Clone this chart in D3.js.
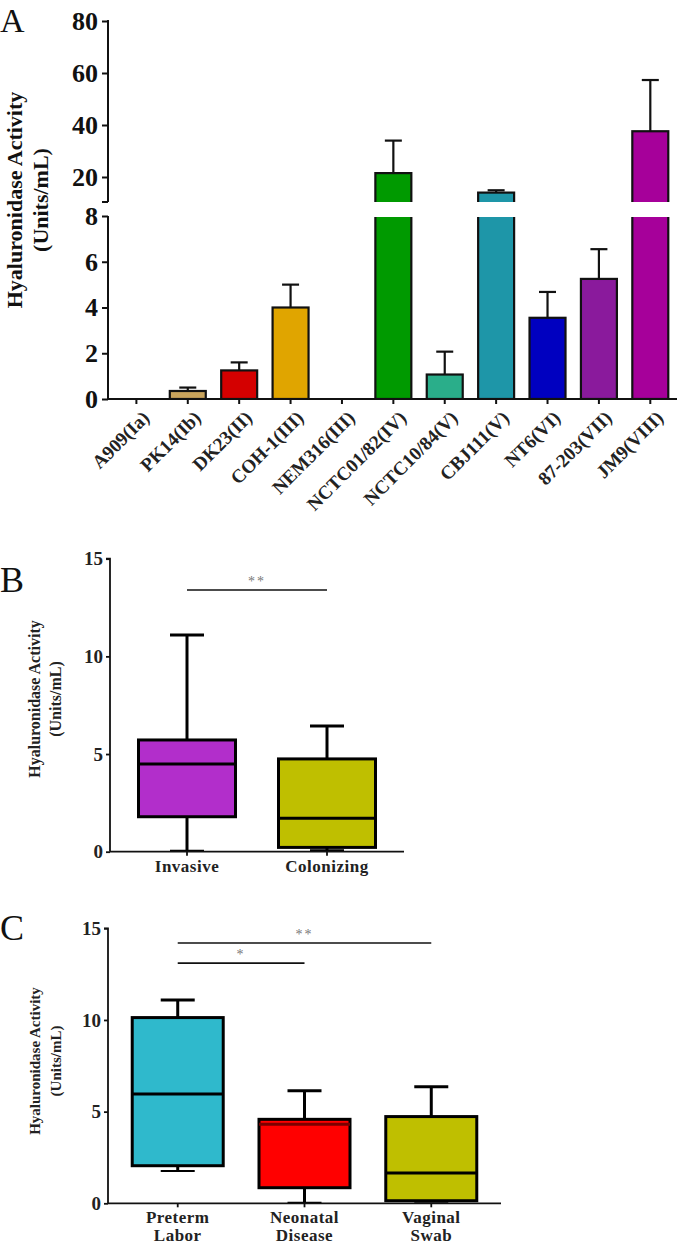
<!DOCTYPE html>
<html><head><meta charset="utf-8">
<script src="https://cdn.jsdelivr.net/npm/d3@7"></script>
<style>body{margin:0;background:#fff}svg{display:block}</style>
</head><body>
<svg id="c" width="680" height="1247"></svg>
<script>
// ---- Panel A data
const strains = ["A909(Ia)","PK14(Ib)","DK23(II)","COH-1(III)","NEM316(III)","NCTC01/82(IV)","NCTC10/84(V)","CBJ111(V)","NT6(VI)","87-203(VII)","JM9(VIII)"];
const activity = [0, 0.35, 1.25, 4.0, 0, 21.5, 1.07, 14.0, 3.55, 5.25, 37.6];
const activityErr = [0, 0.15, 0.35, 1.0, 0, 12.5, 1.0, 0.9, 1.13, 1.3, 19.7];
const barColors = ["#ffffff","#c9a45c","#d40000","#e0a500","#ffffff","#009a00","#2aae8a","#1e96a8","#0000c0","#8a1a9c","#a6009a"];
const ticksLow = [0,2,4,6,8];
const ticksHigh = [20,40,60,80];
// ---- Panel B data
const groupsB = ["Invasive","Colonizing"];
const statsB = [ // [min, q1, median, q3, max]
  [0.05, 1.79, 4.49, 5.72, 11.1],
  [0.08, 0.22, 1.71, 4.75, 6.43]
];
const colorsB = ["#b22ecb","#bfbf00"];
// ---- Panel C data
const groupsC = [["Preterm","Labor"],["Neonatal","Disease"],["Vaginal","Swab"]];
const statsC = [
  [1.76, 2.05, 5.96, 10.13, 11.09],
  [0.03, 0.85, 4.31, 4.58, 6.14],
  [0.08, 0.14, 1.65, 4.73, 6.36]
];
const colorsC = ["#2fb9cc","#ff0000","#bfbf00"];
const medianColorsC = ["#000","#7a0000","#000"];
const ticksBC = [0,5,10,15];

const svg = d3.select("#c");
const F = '"Liberation Serif","Times New Roman",serif';

// ================= Panel A =================
{
  const x = d3.scaleBand().domain(strains).range([110.7, 676]).paddingInner(0.3).paddingOuter(0.15);
  const yLow = d3.scaleLinear().domain([0,8]).range([399,216]);
  const yHigh = d3.scaleLinear().domain([20,80]).range([177,21]);
  const breakTop = 202, breakBot = 217;
  const defs = svg.append("defs");
  defs.append("clipPath").attr("id","clipLow").append("rect").attr("x",0).attr("y",breakBot).attr("width",680).attr("height",400-breakBot);
  defs.append("clipPath").attr("id","clipHigh").append("rect").attr("x",0).attr("y",0).attr("width",680).attr("height",breakTop);

  const g = svg.append("g");
  const bw = x.bandwidth();
  // lower segment bars
  g.append("g").attr("clip-path","url(#clipLow)").selectAll("rect").data(strains).join("rect")
    .attr("x", d=>x(d)).attr("width", bw)
    .attr("y", (d,i)=> activity[i] > 8 ? 150 : yLow(activity[i]))
    .attr("height", (d,i)=> yLow(0) - (activity[i] > 8 ? 150 : yLow(activity[i])))
    .attr("fill",(d,i)=>barColors[i]).attr("stroke","#111").attr("stroke-width",2.2)
    .attr("display",(d,i)=>activity[i]>0?null:"none");
  // upper segment bars
  g.append("g").attr("clip-path","url(#clipHigh)").selectAll("rect").data(strains.filter((d,i)=>activity[i]>8)).join("rect")
    .attr("x", d=>x(d)).attr("width", bw)
    .attr("y", d=>yHigh(activity[strains.indexOf(d)]))
    .attr("height", d=> 230 - yHigh(activity[strains.indexOf(d)]))
    .attr("fill",d=>barColors[strains.indexOf(d)]).attr("stroke","#111").attr("stroke-width",2.2);
  // error bars
  const ypos = v => v > 8 ? yHigh(v) : yLow(v);
  const eb = g.append("g").attr("stroke","#111").attr("stroke-width",2.2);
  strains.forEach((d,i)=>{
    if (activity[i] <= 0) return;
    const cx = x(d)+bw/2, y1 = ypos(activity[i]), y2 = ypos(activity[i]+activityErr[i]);
    eb.append("line").attr("x1",cx).attr("x2",cx).attr("y1",y1).attr("y2",y2);
    eb.append("line").attr("x1",cx-8.5).attr("x2",cx+8.5).attr("y1",y2).attr("y2",y2);
  });
  // axes
  const axLow = d3.axisLeft(yLow).tickValues(ticksLow).tickSize(6).tickPadding(4);
  const axHigh = d3.axisLeft(yHigh).tickValues(ticksHigh).tickSize(6).tickPadding(4);
  const gl = g.append("g").attr("transform","translate(108,0)").call(axLow);
  const gh = g.append("g").attr("transform","translate(108,0)").call(axHigh);
  [gl,gh].forEach(a=>{
    a.attr("font-family",F);
    a.select(".domain").remove();
    a.selectAll("line").attr("stroke","#111").attr("stroke-width",2);
    a.selectAll("text").attr("font-family",F).attr("font-weight","bold").attr("font-size",26).attr("fill","#111");
  });
  g.append("line").attr("x1",108).attr("x2",108).attr("y1",216).attr("y2",400).attr("stroke","#111").attr("stroke-width",2);
  g.append("line").attr("x1",108).attr("x2",108).attr("y1",20).attr("y2",breakTop).attr("stroke","#111").attr("stroke-width",2);
  g.append("line").attr("x1",102).attr("x2",108).attr("y1",breakTop).attr("y2",breakTop).attr("stroke","#111").attr("stroke-width",2);
  // x axis
  const ax = d3.axisBottom(x).tickSize(5).tickFormat("");
  const gx = g.append("g").attr("transform","translate(0,399)").call(ax);
  gx.select(".domain").attr("d","M107,0H677").attr("stroke","#111").attr("stroke-width",2);
  gx.selectAll("line").attr("stroke","#111").attr("stroke-width",2);
  g.append("g").selectAll("text").data(strains).join("text")
    .attr("transform", d=>`translate(${x(d)+bw/2+4},${409}) rotate(-45)`)
    .attr("text-anchor","end").attr("dy","0.75em")
    .attr("font-family",F).attr("font-weight","bold").attr("font-size",19).attr("fill","#222")
    .text(d=>d);
  // y label
  const yl = g.append("text").attr("transform","translate(0,200) rotate(-90)").attr("text-anchor","middle")
    .attr("font-family",F).attr("font-weight","bold").attr("font-size",22).attr("fill","#111");
  yl.append("tspan").attr("x",0).attr("y",22).text("Hyaluronidase Activity");
  yl.append("tspan").attr("x",0).attr("y",48).text("(Units/mL)");
  g.append("text").attr("x",0).attr("y",32).attr("font-family",F).attr("font-size",34).attr("fill","#111").text("A");
}

// ================= Box plot helper =================
function boxPanel(opts){
  const {groups, stats, colors, medColors, y0, y15, xL, xR, letterY, labelCY, labelFS, tickFS, letter, boxW, sig} = opts;
  const g = svg.append("g");
  const y = d3.scaleLinear().domain([0,15]).range([y0, y15]);
  const names = groups.map(d=>Array.isArray(d)?d.join(" "):d);
  const x = d3.scaleBand().domain(names).range([xL, xR]).paddingInner(0.34).paddingOuter(0.22);
  const cx = n => x(n)+x.bandwidth()/2;
  const bx = g.append("g");
  names.forEach((n,i)=>{
    const [mn,q1,md,q3,mx] = stats[i];
    const c = cx(n);
    bx.append("line").attr("x1",c).attr("x2",c).attr("y1",y(mx)).attr("y2",y(q3)).attr("stroke","#000").attr("stroke-width",3);
    bx.append("line").attr("x1",c).attr("x2",c).attr("y1",y(q1)).attr("y2",y(mn)).attr("stroke","#000").attr("stroke-width",3);
    bx.append("line").attr("x1",c-17).attr("x2",c+17).attr("y1",y(mx)).attr("y2",y(mx)).attr("stroke","#000").attr("stroke-width",3);
    bx.append("line").attr("x1",c-17).attr("x2",c+17).attr("y1",y(mn)).attr("y2",y(mn)).attr("stroke","#000").attr("stroke-width",2);
    bx.append("rect").attr("x",c-boxW/2).attr("width",boxW).attr("y",y(q3)).attr("height",y(q1)-y(q3))
      .attr("fill",colors[i]).attr("stroke","#000").attr("stroke-width",3);
    bx.append("line").attr("x1",c-boxW/2).attr("x2",c+boxW/2).attr("y1",y(md)).attr("y2",y(md))
      .attr("stroke",medColors?medColors[i]:"#000").attr("stroke-width",3);
  });
  const ay = d3.axisLeft(y).tickValues(ticksBC).tickSize(4).tickPadding(3);
  const gy = g.append("g").attr("transform",`translate(${xL},0)`).call(ay);
  gy.select(".domain").attr("stroke","#111").attr("stroke-width",1.8).attr("d",`M-4,${y(15)}H0V${y(0)}`);
  gy.selectAll("line").attr("stroke","#111").attr("stroke-width",1.8);
  gy.selectAll("text").attr("font-family",F).attr("font-weight","bold").attr("font-size",tickFS).attr("fill","#222");
  const axx = d3.axisBottom(x).tickSize(4).tickFormat("");
  const gx = g.append("g").attr("transform",`translate(0,${y0})`).call(axx);
  gx.select(".domain").attr("d",`M${xL},0H${xR}`).attr("stroke","#111").attr("stroke-width",1.8);
  gx.selectAll("line").attr("stroke","#111").attr("stroke-width",1.8);
  names.forEach((n,i)=>{
    const lines = Array.isArray(groups[i])?groups[i]:[groups[i]];
    const t = g.append("text").attr("text-anchor","middle").attr("font-family",F).attr("font-weight","bold")
      .attr("font-size",17).attr("fill","#222").attr("letter-spacing",0.5);
    lines.forEach((l,k)=>t.append("tspan").attr("x",cx(n)).attr("y",y0+20+k*18).text(l));
  });
  sig.forEach(s=>{
    const a = cx(names[s.from]), b = cx(names[s.to]);
    g.append("line").attr("x1",a).attr("x2",b).attr("y1",y(s.v)).attr("y2",y(s.v)).attr("stroke","#111").attr("stroke-width",1.6);
    g.append("text").attr("x",(a+b)/2).attr("y",y(s.v)-4).attr("text-anchor","middle").attr("font-family",F)
      .attr("font-size",14).attr("fill","#777").attr("letter-spacing",2).text(s.t);
  });
  const yl = g.append("text").attr("transform",`translate(0,${labelCY}) rotate(-90)`).attr("text-anchor","middle")
    .attr("font-family",F).attr("font-weight","bold").attr("font-size",labelFS).attr("fill","#222");
  yl.append("tspan").attr("x",0).attr("y",40).text("Hyaluronidase Activity");
  yl.append("tspan").attr("x",0).attr("y",61).text("(Units/mL)");
  g.append("text").attr("x",0).attr("y",letterY).attr("font-family",F).attr("font-size",36).attr("fill","#111").text(letter);
}

boxPanel({groups:groupsB, stats:statsB, colors:colorsB, y0:851.7, y15:558.7, xL:110, xR:404,
  letterY:592, labelCY:699, labelFS:16, tickFS:19, letter:"B", boxW:97,
  sig:[{from:0,to:1,v:13.4,t:"**"}]});
boxPanel({groups:groupsC, stats:statsC, colors:colorsC, medColors:medianColorsC, y0:1203.3, y15:928.3, xL:108, xR:501,
  letterY:940, labelCY:1061, labelFS:15, tickFS:19, letter:"C", boxW:91,
  sig:[{from:0,to:2,v:14.2,t:"**"},{from:0,to:1,v:13.1,t:"*"}]});
</script>
</body></html>
